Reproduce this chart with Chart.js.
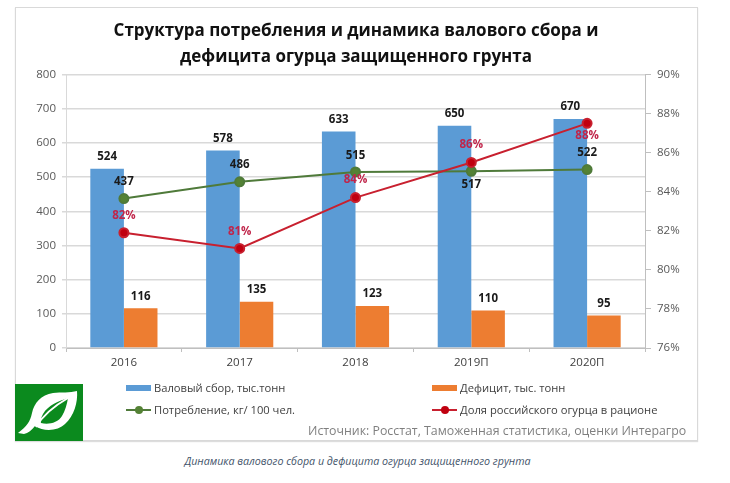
<!DOCTYPE html>
<html lang="ru">
<head>
<meta charset="utf-8">
<title>Огурец защищенного грунта</title>
<script src="https://cdn.jsdelivr.net/npm/chart.js@4"></script>
<style>
    html, body { margin: 0; padding: 0; background: #fff; }
    body { width: 730px; height: 483px; position: relative; overflow: hidden; font-family: "Open Sans", sans-serif; }
    #frame { position: absolute; left: 15px; top: 7px; width: 683px; height: 434px; border: 1px solid #d9d9d9; box-sizing: border-box; box-shadow: 0 1px 1px #ddd; }
    #wrap { position: absolute; left: 15px; top: 7px; width: 682px; height: 433px; }
    .legend { position: absolute; font-size: 11.2px; color: #404040; white-space: nowrap; line-height: 14px; }
    .swatch { position: absolute; }
    #source { position: absolute; left: 308px; top: 422px; font-size: 12.35px; color: #7f7f7f; white-space: nowrap; }
    #caption { position: absolute; left: 0; width: 715px; top: 454px; text-align: center; font-size: 10.7px; font-style: italic; color: #44546a; }
    #logo { position: absolute; left: 15px; top: 384px; width: 68px; height: 57px; }
</style>
</head>
<body>
<div id="frame"></div>
<div id="wrap"><canvas id="mainChart" width="682" height="433"></canvas></div>
<div id="legendBox"></div>
<svg id="logo" viewBox="0 0 68 57">
    <rect width="68" height="57" fill="#0b8a1e"/>
    <path fill="#fff" fill-rule="evenodd" d="M3 49 C12 42 15 38 17 29 C19 19 26 11 38 9 C46 8 55 9 62 7 C63 18 59 32 50 40 C43 47 29 48 20 42 C17 46 13 49 9 50 Z M53 14 C44 17 33 21 28 30 C26 34 25 37 26 39 C33 41 43 39 47 32 C50 27 52 20 53 14 Z"/>
    <path d="M21 43 C28 31 39 22 53 14" fill="none" stroke="#fff" stroke-width="2"/>
</svg>
<div id="source">Источник: Росстат, Таможенная статистика, оценки Интерагро</div>
<div id="caption">Динамика валового сбора и дефицита огурца защищенного грунта</div>

<script>
// ==========================
// данные
// ==========================
const years = ["2016", "2017", "2018", "2019П", "2020П"];
const grossHarvest = [524, 578, 633, 650, 670];
const deficit = [116, 135, 123, 110, 95];
const consumption = [437, 486, 515, 517, 522];
const russianShare = [81.9, 81.1, 83.7, 85.5, 87.5];
const shareLabels = ["82%", "81%", "84%", "86%", "88%"];
const titleLines = ["Структура потребления и динамика валового сбора и", "дефицита огурца защищенного грунта"];

// ==========================
// подписи значений
// ==========================
const labelOffsets = [
    [-12, -12, -12, -12, -12],
    [-12, -12, -12, -12, -12],
    [-17, -17, -16, 13, -17],
    [-17, -17, -18, -18, 12]
];
const labelColors = ["#1a1a1a", "#1a1a1a", "#1a1a1a", "#c0254a"];

const valueLabels = {
    id: "valueLabels",
    afterDatasetsDraw(chart) {
        const c = chart.ctx;
        c.save();
        c.font = "bold 11.5px 'Open Sans', sans-serif";
        c.textAlign = "center";
        c.textBaseline = "middle";
        chart.data.datasets.forEach((ds, i) => {
            chart.getDatasetMeta(i).data.forEach((el, j) => {
                const text = i === 3 ? shareLabels[j] : String(ds.data[j]);
                c.fillStyle = labelColors[i];
                c.fillText(text, el.x, el.y + labelOffsets[i][j]);
            });
        });
        c.restore();
    }
};

// ==========================
// график
// ==========================
const tickFont = { family: "'Open Sans', sans-serif", size: 11.5 };

new Chart(document.getElementById("mainChart"), {
    type: "bar",
    plugins: [valueLabels],
    data: {
        labels: years,
        datasets: [
            { label: "Валовый сбор, тыс.тонн", data: grossHarvest, backgroundColor: "#5b9bd5", categoryPercentage: 0.58, barPercentage: 1, order: 3 },
            { label: "Дефицит, тыс. тонн", data: deficit, backgroundColor: "#ed7d31", categoryPercentage: 0.58, barPercentage: 1, order: 3 },
            { type: "line", label: "Потребление, кг/ 100 чел.", data: consumption, borderColor: "#4f7a3a", backgroundColor: "#548235", borderWidth: 2, pointRadius: 4.5, pointHoverRadius: 4.5, order: 2 },
            { type: "line", label: "Доля российского огурца в рационе", data: russianShare, yAxisID: "y1", borderColor: "#c8202f", backgroundColor: "#c00010", borderWidth: 2, pointRadius: 4.5, pointHoverRadius: 4.5, order: 1 }
        ]
    },
    options: {
        responsive: false,
        animation: false,
        layout: { padding: 0 },
        plugins: {
            legend: { display: false },
            tooltip: { enabled: false },
            title: {
                display: true,
                text: titleLines,
                color: "#111",
                font: { family: "'Open Sans', sans-serif", size: 17, weight: "bold", lineHeight: 1.53 },
                padding: { top: 11, bottom: 4.5 }
            }
        },
        scales: {
            x: {
                afterFit(s) { s.height = 92; },
                grid: { drawOnChartArea: false, color: "#bfbfbf", tickLength: 4 },
                border: { color: "#bfbfbf" },
                ticks: { color: "#404040", font: tickFont, padding: 4 }
            },
            y: {
                min: 0,
                max: 800,
                afterFit(s) { s.width = 51; },
                grid: { color: "#d9d9d9", lineWidth: 1.5, tickLength: 4 },
                border: { color: "#d9d9d9" },
                ticks: { stepSize: 100, color: "#595959", font: tickFont, padding: 6 }
            },
            y1: {
                position: "right",
                min: 76,
                max: 90,
                afterFit(s) { s.width = 52; },
                grid: { drawOnChartArea: false, color: "#bfbfbf", tickLength: 6 },
                border: { color: "#bfbfbf" },
                ticks: { stepSize: 2, color: "#595959", font: tickFont, padding: 6, callback: v => v + "%" }
            }
        }
    }
});

// ==========================
// легенда
// ==========================
const legendItems = [
    { text: "Валовый сбор, тыс.тонн", x: 126, y: 388, kind: "bar", color: "#5b9bd5" },
    { text: "Дефицит, тыс. тонн", x: 432, y: 388, kind: "bar", color: "#ed7d31" },
    { text: "Потребление, кг/ 100 чел.", x: 126, y: 410, kind: "line", color: "#4f7a3a", dot: "#548235" },
    { text: "Доля российского огурца в рационе", x: 432, y: 410, kind: "line", color: "#c8202f", dot: "#c00010" }
];
const box = document.getElementById("legendBox");
legendItems.forEach(it => {
    const add = (css) => { const d = document.createElement("div"); d.className = "swatch"; d.style.cssText = css; box.appendChild(d); };
    if (it.kind === "bar") {
        add(`left:${it.x}px;top:${it.y - 3}px;width:25px;height:6px;background:${it.color}`);
    } else {
        add(`left:${it.x}px;top:${it.y - 1}px;width:25px;height:2px;background:${it.color}`);
        add(`left:${it.x + 9}px;top:${it.y - 4}px;width:8px;height:8px;border-radius:50%;background:${it.dot}`);
    }
    const t = document.createElement("div");
    t.className = "legend";
    t.textContent = it.text;
    t.style.left = (it.x + 28) + "px";
    t.style.top = (it.y - 7) + "px";
    box.appendChild(t);
});
</script>
</body>
</html>
